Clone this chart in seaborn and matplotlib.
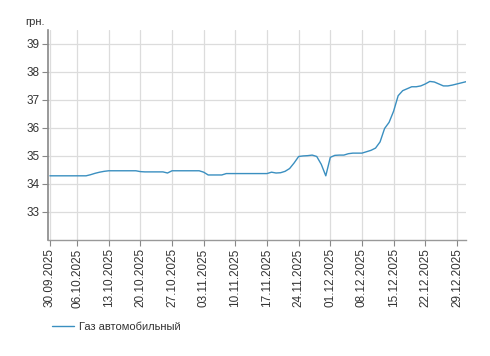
import pandas as pd
import seaborn as sns
import matplotlib.pyplot as plt
import matplotlib.dates as mdates

# Цена газа автомобильного, грн., по дням 30.09.2025 - 31.12.2025
start_date = "2025-09-30"
end_date = "2025-12-31"
prices = [
    34.29, 34.29, 34.29, 34.29, 34.29, 34.29, 34.29, 34.29, 34.29, 34.33,  # 30.09-09.10
    34.38, 34.42, 34.45, 34.47, 34.47, 34.47, 34.47, 34.47, 34.47, 34.47,  # 10.10-19.10
    34.44, 34.43, 34.43, 34.43, 34.43, 34.43, 34.39, 34.47, 34.47, 34.47,  # 20.10-29.10
    34.47, 34.47, 34.47, 34.47, 34.42, 34.32, 34.32, 34.32, 34.32, 34.37,  # 30.10-08.11
    34.37, 34.37, 34.37, 34.37, 34.37, 34.37, 34.37, 34.37, 34.37, 34.42,  # 09.11-18.11
    34.39, 34.40, 34.45, 34.55, 34.75, 34.98, 35.00, 35.01, 35.03, 34.98,  # 19.11-28.11
    34.70, 34.29, 34.95, 35.02, 35.03, 35.03, 35.08, 35.10, 35.10, 35.10,  # 29.11-08.12
    35.15, 35.20, 35.28, 35.50, 35.98, 36.20, 36.60, 37.15, 37.33, 37.40,  # 09.12-18.12
    37.47, 37.47, 37.50, 37.57, 37.66, 37.64, 37.57, 37.50, 37.50, 37.53,  # 19.12-28.12
    37.57, 37.61, 37.65,                                                   # 29.12-31.12
]
series_name = "Газ автомобильный"
unit_label = "грн."
y_ticks = [33, 34, 35, 36, 37, 38, 39]
x_ticks = ["2025-09-30", "2025-10-06", "2025-10-13", "2025-10-20", "2025-10-27",
           "2025-11-03", "2025-11-10", "2025-11-17", "2025-11-24", "2025-12-01",
           "2025-12-08", "2025-12-15", "2025-12-22", "2025-12-29"]

df = pd.DataFrame({
    "Дата": pd.date_range(start_date, end_date, freq="D"),
    "Цена": prices,
})

sns.set_theme(style="whitegrid")
plt.rcParams["font.family"] = ["Liberation Sans", "DejaVu Sans"]

fig = plt.figure(figsize=(4.9, 3.56), dpi=100)
ax = fig.add_axes([0.098, 0.326, 0.853, 0.590])

sns.lineplot(data=df, x="Дата", y="Цена", ax=ax, color="#3a8fc0",
             linewidth=1.0, label=series_name, legend=False)

# оси
ax.set_ylim(32, 39.5)
ax.set_yticks(y_ticks)
ax.set_xlim(pd.Timestamp(start_date) - pd.Timedelta(hours=10),
            pd.Timestamp(end_date))
ax.set_xticks(pd.to_datetime(x_ticks))
ax.xaxis.set_major_formatter(mdates.DateFormatter("%d.%m.%Y"))
ax.set_xlabel("")
ax.set_ylabel("")

ax.set_facecolor("white")
ax.grid(True, color="#dcdcdc", linewidth=0.9)
for side in ["top", "right"]:
    ax.spines[side].set_visible(False)
ax.spines["left"].set_color("#888888")
ax.spines["bottom"].set_color("#999999")
ax.spines["left"].set_linewidth(1.2)
ax.spines["bottom"].set_linewidth(1.0)
ax.tick_params(axis="both", which="major", direction="out", length=4, width=0.8,
               color="#888888", labelsize=8.5, labelcolor="#333333", pad=2,
               bottom=True, left=True)
plt.setp(ax.get_xticklabels(), rotation=90)

fig.text(0.071, 0.938, unit_label, ha="center", va="center",
         fontsize=8, color="#333333")

handles, labels = ax.get_legend_handles_labels()
fig.legend(handles, labels, loc="center left", bbox_to_anchor=(0.085, 0.081),
           frameon=False, fontsize=8, handlelength=2.0, handletextpad=0.5,
           labelcolor="#333333")

fig.savefig("out.png", dpi=100)
